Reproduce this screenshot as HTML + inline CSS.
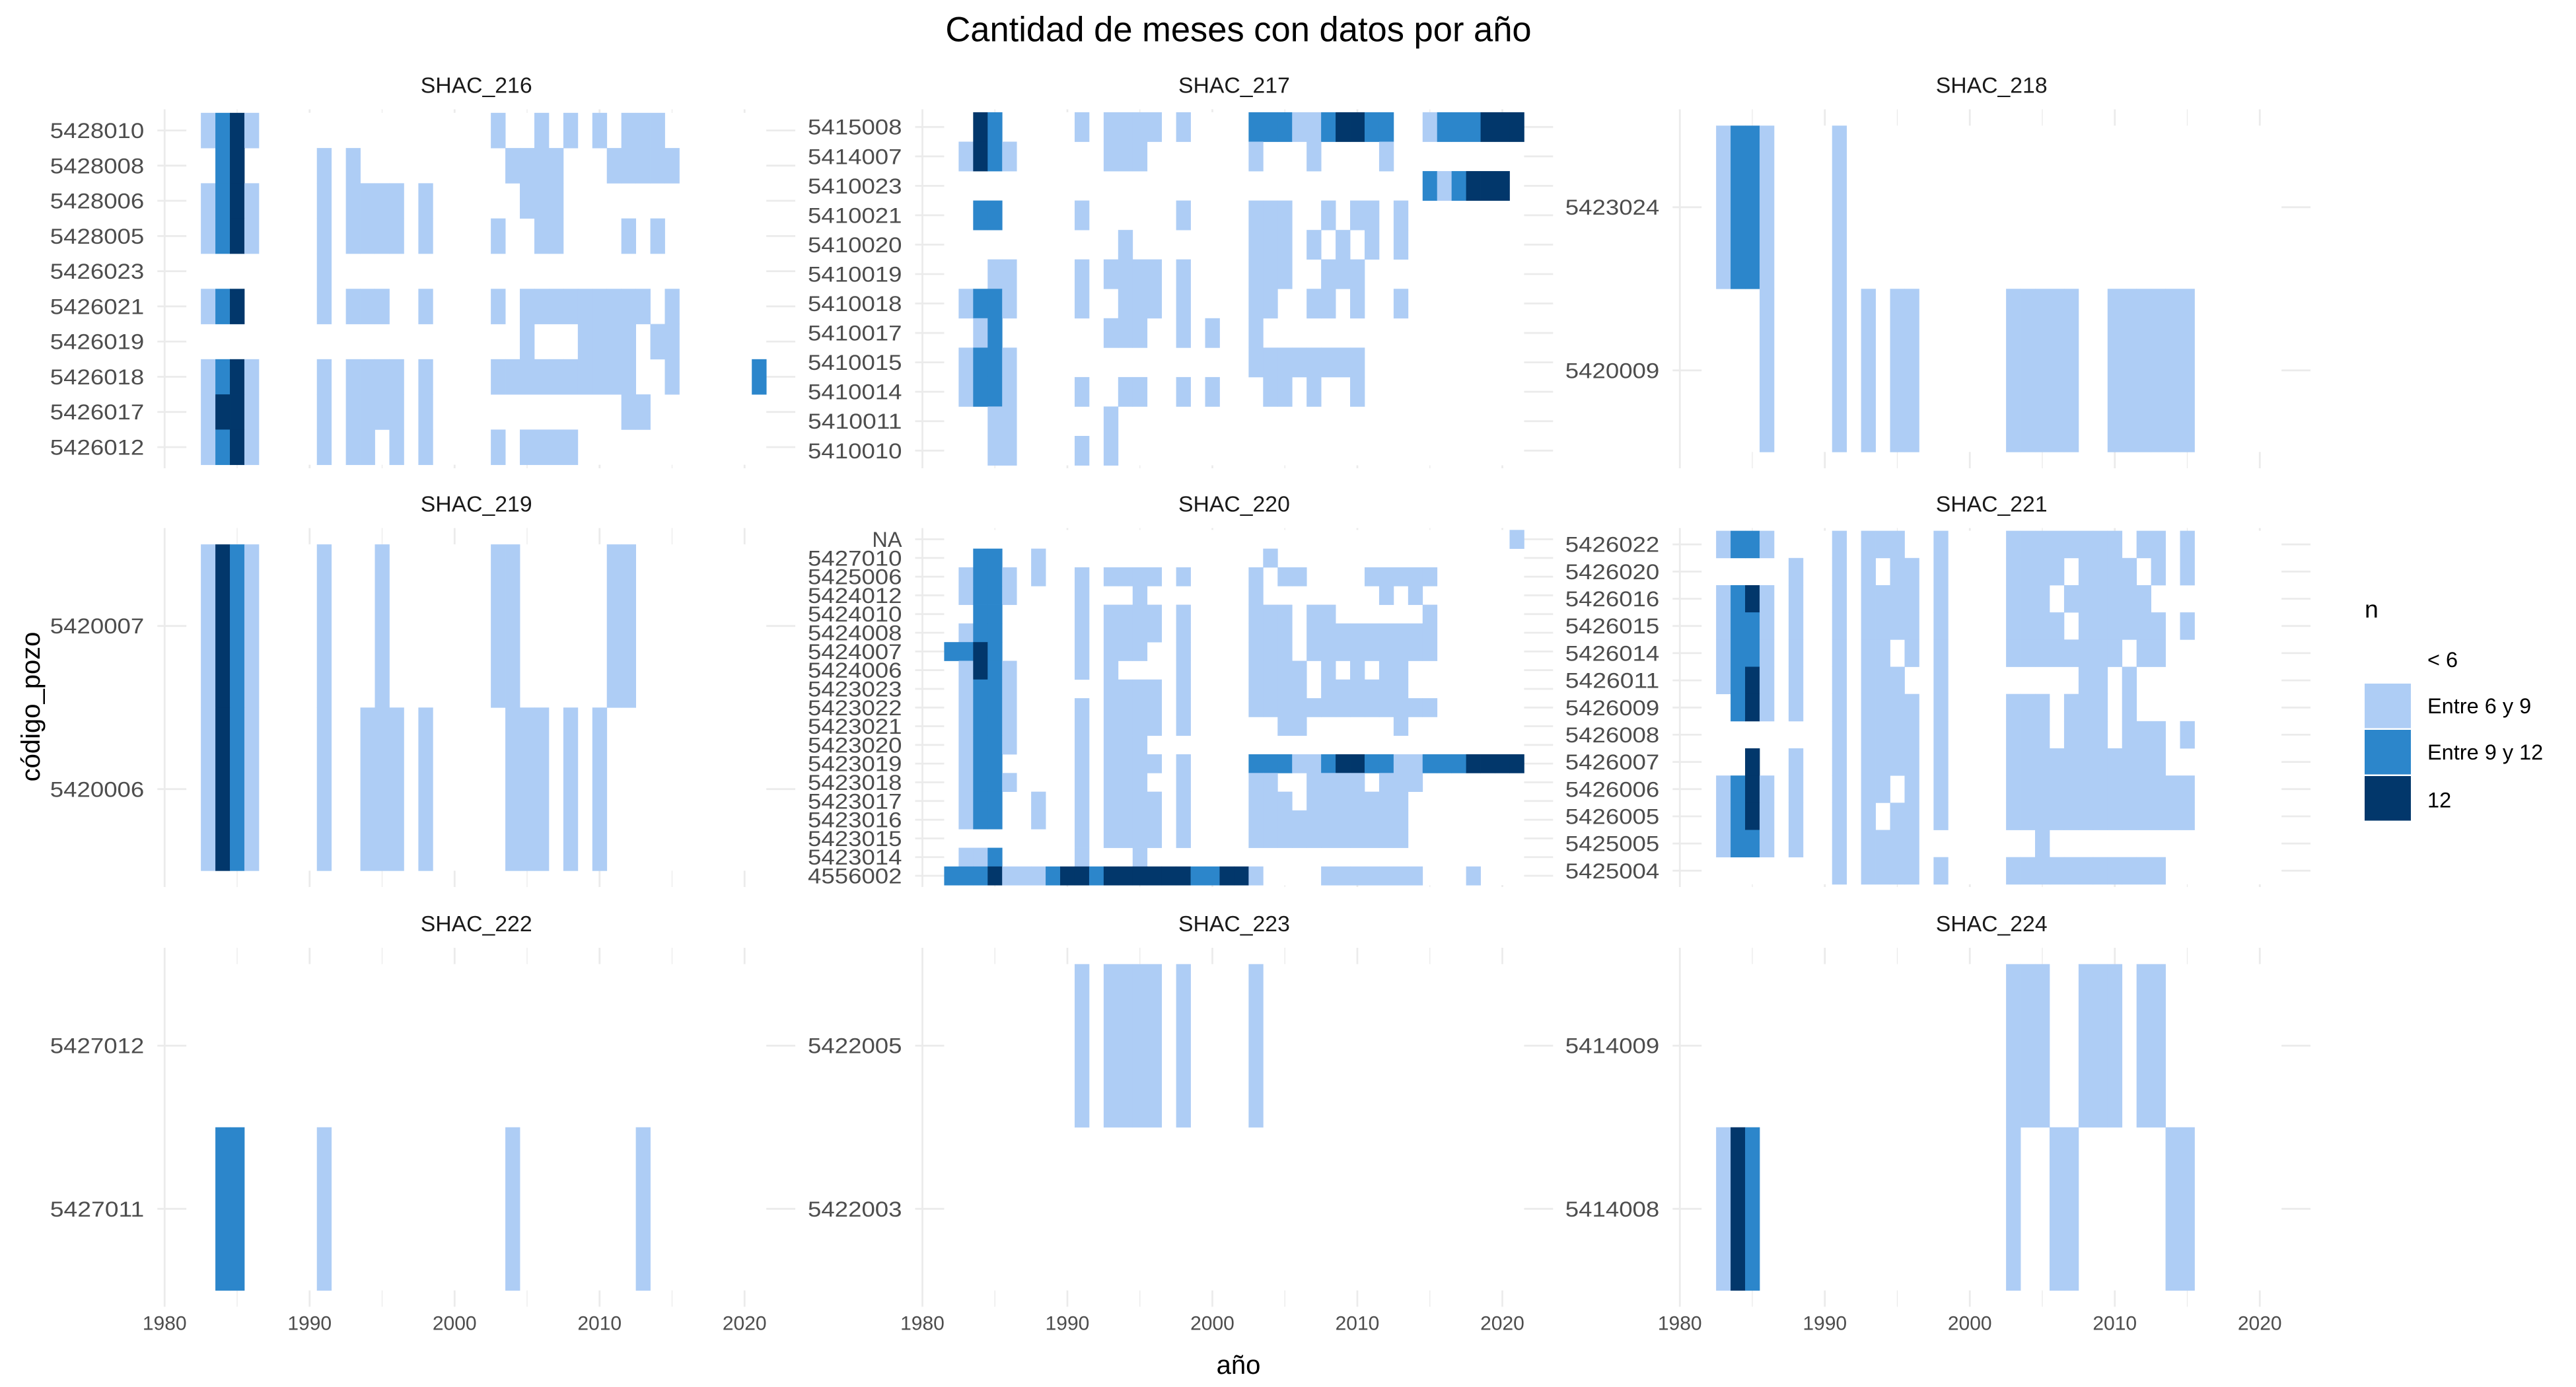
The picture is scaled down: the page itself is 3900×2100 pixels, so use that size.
<!DOCTYPE html>
<html><head><meta charset="utf-8"><style>
html,body{margin:0;padding:0;background:#fff;}
svg{display:block;font-family:"Liberation Sans",sans-serif;}
</style></head><body>
<svg id="chart" width="3900" height="2100" viewBox="0 0 1560 840" xmlns="http://www.w3.org/2000/svg">
<text x="750" y="25" text-anchor="middle" font-size="21" fill="#000">Cantidad de meses con datos por año</text>
<text x="750" y="832" text-anchor="middle" font-size="16" fill="#000">año</text>
<text transform="translate(24,428) rotate(-90)" text-anchor="middle" font-size="16" fill="#000">código_pozo</text>
<g id="panels"></g>
<g>
<text x="1432" y="374" font-size="15" fill="#000">n</text>
<rect x="1432" y="386" width="28" height="27" fill="#ffffff"/>
<text x="1470" y="404" font-size="13" fill="#000">&lt; 6</text>
<rect x="1432" y="414" width="28" height="27" fill="#aecdf5"/>
<text x="1470" y="432" font-size="13" fill="#000">Entre 6 y 9</text>
<rect x="1432" y="442" width="28" height="27" fill="#2c86cb"/>
<text x="1470" y="460" font-size="13" fill="#000">Entre 9 y 12</text>
<rect x="1432" y="470" width="28" height="27" fill="#02376b"/>
<text x="1470" y="489" font-size="13" fill="#000">12</text>
</g>
</svg>
<script>
// Data: each string = levels per year 1980..2022 ('.' none/<6 white, 1 = 6-9, 2 = 9-12, 3 = 12)
const xTicks = [1980, 1990, 2000, 2010, 2020];
const panelNames = ["SHAC_216","SHAC_217","SHAC_218","SHAC_219","SHAC_220","SHAC_221","SHAC_222","SHAC_223","SHAC_224"];
const rows216 = ["5428010","5428008","5428006","5428005","5426023","5426021","5426019","5426018","5426017","5426012"];
const cells216 = [
"...1231... .......... ...1..1.1. 1.111..... ...",
"....23.... .1.1...... ....1111.. .11111.... ...",
"...1231... .1.1111.1. .....111.. .......... ...",
"...1231... .1.1111.1. ...1..11.. ..1.1..... ...",
".......... .1........ .......... .......... ...",
"...123.... .1.111..1. ...1.11111 1111.1.... ...",
".......... .......... .....1...1 111.11.... ...",
"...1231... .1.1111.1. ...1111111 111..1.... .2.",
"...1331... .1.1111.1. .......... ..11...... ...",
"...1231... .1.11.1.1. ...1.1111. .......... ..."];
const rows217 = ["5415008","5414007","5410023","5410021","5410020","5410019","5410018","5410017","5410015","5410014","5410011","5410010"];
const cells217 = [
"....32.... .1.1111.1. ...2221123 322..12223 33.",
"...1321... ...111.... ...1...1.. ..1....... ...",
".......... .......... .......... .....21233 3..",
"....22.... .1......1. ...111..1. 11.1...... ...",
".......... ....1..... ...111.1.1 .1.1...... ...",
".....11... .1.1111.1. ...111..11 1......... ...",
"...1221... .1..111.1. ...11..11. 1..1...... ...",
"....12.... ...111..1. 1..1...... .......... ...",
"...1221... .......... ...1111111 1......... ...",
"...1221... .1..11..1. 1...11.1.. 1......... ...",
".....11... ...1...... .......... .......... ...",
".....11... .1.1...... .......... .......... ..."];
const rows218 = ["5423024","5420009"];
const cells218 = [
"...1221... .1........ .......... .......... ...",
"......1... .1.1.11... ...11111.. 111111.... ..."];
const rows219 = ["5420007","5420006"];
const cells219 = [
"...1321... .1...1.... ...11..... .11....... ...",
"...1321... .1..111.1. ....111.1. 1......... ..."];
const rows220 = ["NA","5427010","5425006","5424012","5424010","5424008","5424007","5424006","5423023","5423022","5423021","5423020","5423019","5423018","5423017","5423016","5423015","5423014","4556002"];
const cells220 = [
".......... .......... .......... .......... .1.",
"....22..1. .......... ....1..... .......... ...",
"...1221.1. .1.1111.1. ...1.11... .11111.... ...",
"...1221... .1...1.... ...1...... ..1.1..... ...",
"....22.... .1.1111.1. ...111.11. .....1.... ...",
"...122.... .1.1111.1. ...111.111 111111.... ...",
"..2232.... .1.111..1. ...111.111 111111.... ...",
"...1321... .1.1....1. ...1111.1. 1.11...... ...",
"...1221... ...1111.1. ...1111.11 1111...... ...",
"...1221... .1.1111.1. ...1111111 111111.... ...",
"...1221... .1.1111.1. .....11... ...1...... ...",
"...1221... .1.111.... .......... .......... ...",
"...122.... .1.1111.1. ...2221123 3221122233 33.",
"...1221... .1.111..1. ...11..111 1.111..... ...",
"...122..1. .1.1111.1. ...111.111 1111...... ...",
"...122..1. .1.1111.1. ...1111111 1111...... ...",
".......... .1.1111.1. ...1111111 1111...... ...",
"...112.... .1...1.... .......... .......... ...",
"..22231112 3323333332 2331....11 11111...1. ..."];
const rows221 = ["5426022","5426020","5426016","5426015","5426014","5426011","5426009","5426008","5426007","5426006","5426005","5425005","5425004"];
const cells221 = [
"...1221... .1.111..1. ...1111111 1.11.1.... ...",
"........1. .1.1.11.1. ...1111.11 11.1.1.... ...",
"...1231.1. .1.1111.1. ...111.111 111....... ...",
"...1221.1. .1.1111.1. ...1111.11 1111.1.... ...",
"...1221.1. .1.11.1.1. ...1111111 1.11...... ...",
"...1231.1. .1.111..1. ........11 .1........ ...",
"....231.1. .1.1111.1. ...111.111 .1........ ...",
".......... .1.1111.1. ...111.111 .111.1.... ...",
".....3..1. .1.1111.1. ...1111111 1111...... ...",
"...1231.1. .1.11.1.1. ...1111111 111111.... ...",
"...1231.1. .1.1.11.1. ...1111111 111111.... ...",
"...1221.1. .1.1111... .....1.... .......... ...",
".......... .1.1111.1. ...1111111 1111...... ..."];
const rows222 = ["5427012","5427011"];
const cells222 = [
".......... .......... .......... .......... ...",
"....22.... .1........ ....1..... ...1...... ..."];
const rows223 = ["5422005","5422003"];
const cells223 = [
".......... .1.1111.1. ...1...... .......... ...",
".......... .......... .......... .......... ..."];
const rows224 = ["5414009","5414008"];
const cells224 = [
".......... .......... ...111..11 1.11...... ...",
"...132.... .......... ...1..11.. ....11.... ..."];

const colors = {"1":"#aecdf5","2":"#2c86cb","3":"#02376b"};
const panelRows = [rows216,rows217,rows218,rows219,rows220,rows221,rows222,rows223,rows224];
const panelCells = [cells216,cells217,cells218,cells219,cells220,cells221,cells222,cells223,cells224];

const NS = "http://www.w3.org/2000/svg";
const colX0 = [99.7, 558.6, 1017.3];
const rowT = [66.2, 319.8, 574];
const PH = 217.4;
const PX = 8.78;
const root = document.getElementById('panels');
function mk(tag, attrs, parent){
  const e = document.createElementNS(NS, tag);
  for (const k in attrs) e.setAttribute(k, attrs[k]);
  parent.appendChild(e);
  return e;
}
for (let p = 0; p < 9; p++) {
  const col = p % 3, r = Math.floor(p / 3);
  const x0 = colX0[col], T = rowT[r];
  const xs = y => x0 + (y - 1980) * PX;
  const L = xs(1979.5), R = xs(2023.5);
  const rows = panelRows[p], cells = panelCells[p];
  const n = rows.length, rh = PH / (n + 0.2);
  const yc = i => T + (0.6 + i) * rh;
  const g = mk('g', {}, root);
  
  
  const tt = mk('text', {x: (L + R) / 2, y: T - 10, 'text-anchor': 'middle', 'font-size': 13.5, fill: '#1a1a1a'}, g);
  
  
  tt.textContent = panelNames[p];
  // vertical grid
  for (let y = 1980; y <= 2020; y += 5) {
    const ln = mk('line', {x1: xs(y), x2: xs(y), y1: T, y2: T + PH, stroke: '#ebebeb', 'stroke-width': (y % 10 === 0) ? 1.1 : 0.55}, g);
    
    
  }
  // horizontal grid + labels
  for (let i = 0; i < n; i++) {
    const ln = mk('line', {x1: L, x2: R, y1: yc(i), y2: yc(i), stroke: '#ebebeb', 'stroke-width': 1.1}, g);
    
    
    const attrs = {x: L - 8, y: yc(i) + 4.6, 'text-anchor': 'end', 'font-size': 13, fill: '#4d4d4d'};
    if (rows[i].length === 7) { attrs.textLength = 57; attrs.lengthAdjust = 'spacingAndGlyphs'; }
    const lb = mk('text', attrs, g);
    
    
    lb.textContent = rows[i];
  }
  // white background tiles (< 6)
  const wb = mk('rect', {x: xs(1981.5), y: yc(0) - rh / 2, width: 40 * PX, height: n * rh, fill: '#ffffff'}, g);
  
  
  // colored tiles
  for (let i = 0; i < n; i++) {
    const s = cells[i].replace(/ /g, '');
    for (let k = 0; k < s.length; k++) {
      const c = s[k];
      if (!colors[c]) continue;
      const yr = 1980 + k;
      const t = mk('rect', {x: xs(yr - 0.5), y: yc(i) - rh / 2, width: PX + 0.15, height: rh + 0.15, fill: colors[c]}, g);
      
      
    }
  }
  // x tick labels on bottom row
  if (r === 2) {
    for (const v of xTicks) {
      const tx = mk('text', {x: xs(v), y: T + PH + 14, 'text-anchor': 'middle', 'font-size': 12, fill: '#4d4d4d'}, g);
      
      
      tx.textContent = v;
    }
  }
}
</script>
</body></html>
